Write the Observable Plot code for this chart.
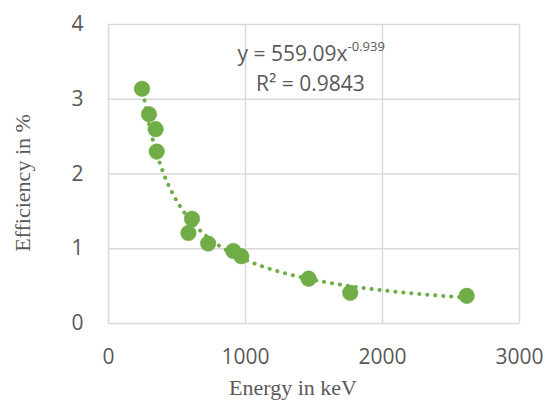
<!DOCTYPE html>
<html><head><meta charset="utf-8">
<script src="https://cdn.jsdelivr.net/npm/d3@7"></script>
<script src="https://cdn.jsdelivr.net/npm/@observablehq/plot@0.6"></script>
<style>body{margin:0;background:#fff;overflow:hidden}</style>
</head><body><div id="chart"></div>
<script>
const energy = [244.7, 295.2, 344.3, 351.9, 609.3, 583.2, 727.3, 911.2, 969.0, 1460.8, 1764.5, 2614.5];
const efficiency = [3.14, 2.80, 2.60, 2.30, 1.40, 1.21, 1.07, 0.97, 0.90, 0.60, 0.41, 0.37];
const xTicks = [0, 1000, 2000, 3000];
const yTicks = [0, 1, 2, 3, 4];
const fitA = 559.09, fitB = -0.939;
const equationMain = "y = 559.09x";
const equationExp = "-0.939";
const r2Text = "R² = 0.9843";
const xTitle = "Energy in keV";
const yTitle = "Efficiency in %";

const green = "#70AD47", grid = "#d9d9d9", textCol = "#595959";
const points = energy.map((e, i) => ({e, eff: efficiency[i]}));
const [eMin, eMax] = d3.extent(energy);
const fit = d3.range(0, 201).map(i => {
  const e = eMin + (eMax - eMin) * i / 200;
  return {e, eff: fitA * Math.pow(e, fitB)};
});

const W = 546, H = 401;
const font = "'Open Sans', sans-serif";
const chart = Plot.plot({
  width: W, height: H,
  marginLeft: 108, marginRight: 27, marginTop: 24, marginBottom: 78,
  style: {fontFamily: font, fontSize: "21px", color: textCol, background: "#fff"},
  x: {domain: [0, 3000], ticks: xTicks},
  y: {domain: [0, 4], ticks: yTicks},
  marks: [
    Plot.gridX(xTicks, {stroke: grid, strokeOpacity: 1, strokeWidth: 1.5}),
    Plot.gridY(yTicks, {stroke: grid, strokeOpacity: 1, strokeWidth: 1.5}),
    Plot.axisX({ticks: xTicks, tickSize: 0, tickPadding: 26, label: null, fill: textCol, tickFormat: d3.format("d"), fontSize: 21}),
    Plot.axisY({ticks: yTicks, tickSize: 0, tickPadding: 25, label: null, fill: textCol, tickFormat: d3.format("d"), fontSize: 21}),
    Plot.line(fit, {x: "e", y: "eff", stroke: green, strokeWidth: 4, strokeLinecap: "round", strokeDasharray: "0.1 7.9"}),
    Plot.dot(points, {x: "e", y: "eff", r: 7.8, fill: green, stroke: green, strokeWidth: 0.5}),
    Plot.text([{e: 1745, eff: 3.60}], {x: "e", y: "eff", text: () => equationMain, textAnchor: "end", fill: textCol, fontSize: 21, fontFamily: font}),
    Plot.text([{e: 1745, eff: 3.60}], {x: "e", y: "eff", text: () => equationExp, textAnchor: "start", dy: -8, fill: textCol, fontSize: 13, fontFamily: font}),
    Plot.text([{e: 1474, eff: 3.20}], {x: "e", y: "eff", text: () => r2Text, fill: textCol, fontSize: 21, fontFamily: font})
  ]
});
const svg = d3.select(chart);
svg.append("text").attr("x", 293).attr("y", 395)
  .attr("text-anchor", "middle").attr("fill", textCol)
  .attr("font-family", "'Liberation Serif', serif").attr("font-size", 22).text(xTitle);
svg.append("text").attr("transform", "translate(30,183) rotate(-90)")
  .attr("text-anchor", "middle").attr("fill", textCol)
  .attr("font-family", "'Liberation Serif', serif").attr("font-size", 22).text(yTitle);
document.getElementById("chart").appendChild(chart);
</script>
</body></html>
